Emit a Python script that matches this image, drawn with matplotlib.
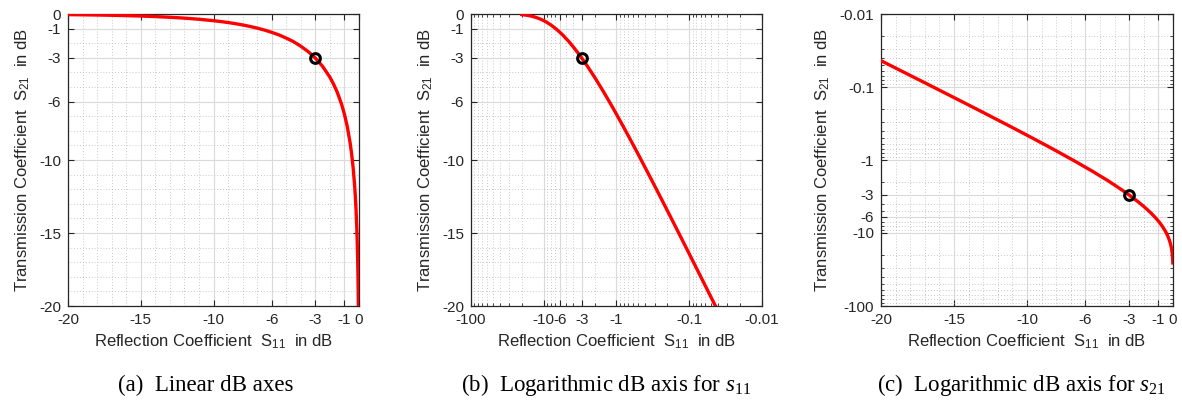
import numpy as np
import matplotlib
matplotlib.use("Agg")
import matplotlib.pyplot as plt
from matplotlib.ticker import FixedLocator, LogLocator, MultipleLocator

plt.rcParams['font.family'] = ['Liberation Sans', 'DejaVu Sans']
plt.rcParams['mathtext.fontset'] = 'custom'
plt.rcParams['mathtext.rm'] = 'Liberation Serif'
plt.rcParams['mathtext.it'] = 'Liberation Serif:italic'
plt.rcParams['mathtext.sf'] = 'Liberation Sans'

# reflection coefficient S11 (dB) and transmission S21 (dB)
s11 = [-20, -19, -18, -17, -16, -15, -14, -13, -12, -11, -10, -9.5, -9, -8.5, -8,
       -7.5, -7, -6.5, -6, -5.5, -5, -4.5, -4, -3.5, -3, -2.5, -2, -1.75, -1.5,
       -1.2, -1, -0.8, -0.6, -0.5, -0.4, -0.3, -0.25, -0.2, -0.15, -0.12,
       -0.1, -0.08, -0.06, -0.05, -0.04, -0.03, -0.02, -0.015, -0.0117]
s21 = [-0.0436, -0.0550, -0.0694, -0.0875, -0.1105, -0.1396, -0.1764, -0.2233,
       -0.2830, -0.3592, -0.4576, -0.5163, -0.5844, -0.6605, -0.7494, -0.8505,
       -0.9665, -1.0990, -1.2563, -1.4321, -1.6509, -1.8955, -2.2048, -2.5703,
       -3.0206, -3.5887, -4.3293, -4.7995, -5.3455, -6.1724, -6.8684, -7.7410,
       -8.8931, -9.6359, -10.5558, -11.7558, -12.5229, -13.4672, -14.6917,
       -15.6460, -16.4278, -17.3870, -18.6262, -19.4130, -20.3772, -21.6217,
       -23.3772, -24.6244, -25.7025]
mark_x, mark_y = -3, -3

lin_ticks = [-20, -15, -10, -6, -3, -1, 0]
log11_ticks = [-100, -10, -6, -3, -1, -0.1, -0.01]
log21_ticks = [-0.01, -0.1, -1, -3, -6, -10, -100]
captions = ['(a)  Linear dB axes',
            r'(b)  Logarithmic dB axis for $s_{11}$',
            r'(c)  Logarithmic dB axis for $s_{21}$']

tc = '#262626'
fig = plt.figure(figsize=(11.82, 4.03), dpi=100)
W, H = 1182, 403
boxes = [(68, 359), (471, 762), (881, 1173)]
axs = []
for l, r in boxes:
    axs.append(fig.add_axes([l / W, (403 - 306) / H, (r - l) / W, 292 / H]))

def style(ax):
    for sp in ax.spines.values():
        sp.set_color(tc)
        sp.set_linewidth(0.9)
    ax.tick_params(which='both', direction='in', top=True, right=True,
                   colors=tc, labelsize=11, labelcolor=tc)
    ax.tick_params(which='major', length=4, pad=5)
    ax.tick_params(which='minor', length=2)
    ax.grid(True, which='major', color='#dadada', linewidth=0.8, linestyle='-')
    ax.grid(True, which='minor', color='#b8b8b8', linewidth=0.6, linestyle=(0, (1, 2.5)))
    ax.set_axisbelow(True)
    ax.set_xlabel(r'Reflection Coefficient  S$_{\mathsf{11}}$  in dB', fontsize=12,
                  color=tc, labelpad=4)
    ax.set_ylabel(r'Transmission Coefficient  S$_{\mathsf{21}}$  in dB', fontsize=12,
                  color=tc, labelpad=5)

def lin_axis(axis):
    axis.set_major_locator(FixedLocator(lin_ticks))
    axis.set_major_formatter(plt.FixedFormatter([str(t) for t in lin_ticks]))
    axis.set_minor_locator(MultipleLocator(1))

def log_axis(axis, ticks):
    axis.set_major_locator(FixedLocator([-t for t in ticks]))
    axis.set_major_formatter(plt.FixedFormatter([str(t) for t in ticks]))
    axis.set_minor_locator(LogLocator(base=10, subs=np.arange(2, 10), numticks=20))

# (a) linear
ax = axs[0]
ax.plot(s11, s21, color='red', lw=2.4, zorder=3)
ax.plot(mark_x, mark_y, 'o', mfc='none', mec='k', ms=7, mew=2.2, zorder=4)
ax.set_xlim(-20, 0)
ax.set_ylim(-20, 0)
lin_axis(ax.xaxis)
lin_axis(ax.yaxis)
style(ax)
ax.tick_params(which='minor', length=0)

# (b) logarithmic s11
ax = axs[1]
ax.plot([-v for v in s11], s21, color='red', lw=2.4, zorder=3)
ax.plot(-mark_x, mark_y, 'o', mfc='none', mec='k', ms=7, mew=2.2, zorder=4)
ax.set_xscale('log')
ax.set_xlim(100, 0.01)
ax.set_ylim(-20, 0)
log_axis(ax.xaxis, log11_ticks)
lin_axis(ax.yaxis)
style(ax)
ax.tick_params(axis='y', which='minor', length=0)

# (c) logarithmic s21
ax = axs[2]
ax.plot(s11, [-v for v in s21], color='red', lw=2.4, zorder=3)
ax.plot(mark_x, -mark_y, 'o', mfc='none', mec='k', ms=7, mew=2.2, zorder=4)
ax.set_yscale('log')
ax.set_xlim(-20, 0)
ax.set_ylim(100, 0.01)
lin_axis(ax.xaxis)
log_axis(ax.yaxis, log21_ticks)
style(ax)
ax.tick_params(axis='x', which='minor', length=0)

for cx, txt in zip([206, 606, 1021], captions):
    fig.text(cx / W, 1 - 385 / H, txt, ha='center', va='center', fontsize=16.5,
             family='Liberation Serif', color='black')

fig.savefig('out.png', dpi=100)
